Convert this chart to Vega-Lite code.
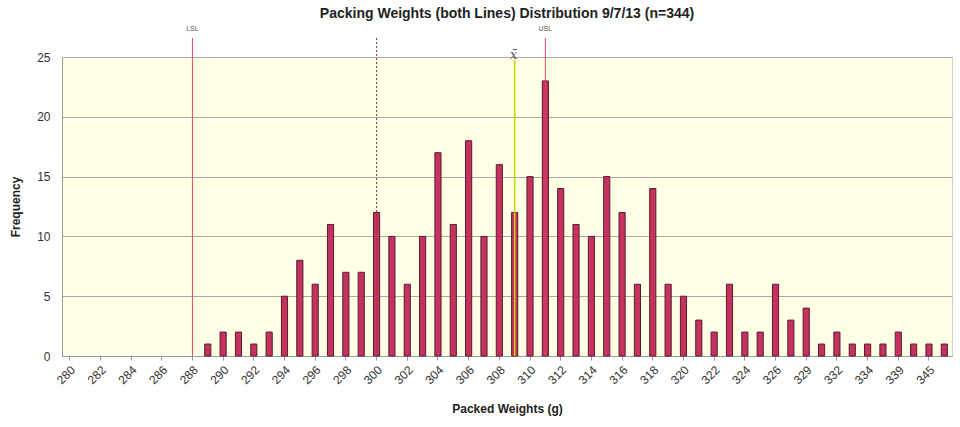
{
  "$schema": "https://vega.github.io/schema/vega-lite/v6.json",
  "width": 890,
  "height": 299,
  "autosize": {"type": "none"},
  "padding": {"left": 62, "top": 57, "right": 8, "bottom": 71},
  "background": "white",
  "config": {
    "view": {"fill": "#FFFFE6", "stroke": "#D0D0D0"},
    "font": "Liberation Sans"
  },
  "title": {
    "text": "Packing Weights (both Lines) Distribution 9/7/13 (n=344)",
    "fontSize": 14,
    "fontWeight": "bold",
    "color": "#222222",
    "anchor": "middle",
    "offset": 4
  },
  "data": {
    "values": [
      {"w": "289", "n": 1}, {"w": "290", "n": 2}, {"w": "291", "n": 2}, {"w": "292", "n": 1},
      {"w": "293", "n": 2}, {"w": "294", "n": 5}, {"w": "295", "n": 8}, {"w": "296", "n": 6},
      {"w": "297", "n": 11}, {"w": "298", "n": 7}, {"w": "299", "n": 7}, {"w": "300", "n": 12},
      {"w": "301", "n": 10}, {"w": "302", "n": 6}, {"w": "303", "n": 10}, {"w": "304", "n": 17},
      {"w": "305", "n": 11}, {"w": "306", "n": 18}, {"w": "307", "n": 10}, {"w": "308", "n": 16},
      {"w": "309", "n": 12}, {"w": "310", "n": 15}, {"w": "311", "n": 23}, {"w": "312", "n": 14},
      {"w": "313", "n": 11}, {"w": "314", "n": 10}, {"w": "315", "n": 15}, {"w": "316", "n": 12},
      {"w": "317", "n": 6}, {"w": "318", "n": 14}, {"w": "319", "n": 6}, {"w": "320", "n": 5},
      {"w": "321", "n": 3}, {"w": "322", "n": 2}, {"w": "323", "n": 6}, {"w": "324", "n": 2},
      {"w": "325", "n": 2}, {"w": "326", "n": 6}, {"w": "327", "n": 3}, {"w": "329", "n": 4},
      {"w": "330", "n": 1}, {"w": "332", "n": 2}, {"w": "333", "n": 1}, {"w": "334", "n": 1},
      {"w": "336", "n": 1}, {"w": "339", "n": 2}, {"w": "341", "n": 1}, {"w": "345", "n": 1},
      {"w": "347", "n": 1}
    ]
  },
  "layer": [
    {
      "mark": {"type": "bar", "fill": "#C4325E", "stroke": "#5A1A2E", "strokeWidth": 1},
      "encoding": {
        "x": {
          "field": "w",
          "type": "ordinal",
          "scale": {
            "domain": ["280","281","282","283","284","285","286","287","288","289","290","291","292","293","294","295","296","297","298","299","300","301","302","303","304","305","306","307","308","309","310","311","312","313","314","315","316","317","318","319","320","321","322","323","324","325","326","327","329","330","332","333","334","336","339","341","345","347"],
            "paddingInner": 0.6,
            "paddingOuter": 0.3
          },
          "axis": {
            "values": ["280","282","284","286","288","290","292","294","296","298","300","302","304","306","308","310","312","314","316","318","320","322","324","326","329","332","334","339","345"],
            "labelAngle": -45,
            "labelFontSize": 12,
            "labelColor": "#333333",
            "labelPadding": 4,
            "domainColor": "#999999",
            "tickColor": "#999999",
            "tickSize": 4,
            "grid": false,
            "title": "Packed Weights (g)",
            "titleFontSize": 12,
            "titleFontWeight": "bold",
            "titleColor": "#222222",
            "titlePadding": 18
          }
        },
        "y": {
          "field": "n",
          "type": "quantitative",
          "scale": {"domain": [0, 25], "nice": false},
          "axis": {
            "values": [0, 5, 10, 15, 20, 25],
            "ticks": false,
            "labelPadding": 12,
            "labelFontSize": 12,
            "labelColor": "#333333",
            "domainColor": "#999999",
            "gridColor": "#A8A8A8",
            "title": "Frequency",
            "titleFontSize": 12,
            "titleFontWeight": "bold",
            "titleColor": "#222222",
            "titlePadding": 14
          }
        }
      }
    },
    {
      "data": {"values": [{"w": "288"}]},
      "mark": {"type": "rule", "color": "#E0485A", "strokeWidth": 1},
      "encoding": {
        "x": {"field": "w", "type": "ordinal"},
        "y": {"datum": 0, "type": "quantitative"},
        "y2": {"datum": 26.6}
      }
    },
    {
      "data": {"values": [{"w": "311"}]},
      "mark": {"type": "rule", "color": "#E0485A", "strokeWidth": 1},
      "encoding": {
        "x": {"field": "w", "type": "ordinal"},
        "y": {"datum": 0, "type": "quantitative"},
        "y2": {"datum": 26.6}
      }
    },
    {
      "data": {"values": [{"w": "300"}]},
      "mark": {"type": "rule", "color": "#8B3A3A", "strokeWidth": 1, "strokeDash": [2, 2]},
      "encoding": {
        "x": {"field": "w", "type": "ordinal"},
        "y": {"datum": 0, "type": "quantitative"},
        "y2": {"datum": 26.6}
      }
    },
    {
      "data": {"values": [{"w": "309"}]},
      "mark": {"type": "rule", "color": "#C8D400", "strokeWidth": 1.5},
      "encoding": {
        "x": {"field": "w", "type": "ordinal"},
        "y": {"datum": 0, "type": "quantitative"},
        "y2": {"datum": 24.7}
      }
    },
    {
      "data": {"values": [{"w": "288", "t": "LSL"}, {"w": "311", "t": "USL"}]},
      "mark": {"type": "text", "fontSize": 7, "color": "#555555", "baseline": "middle", "dy": -3},
      "encoding": {
        "x": {"field": "w", "type": "ordinal"},
        "y": {"datum": 27.1, "type": "quantitative"},
        "text": {"field": "t"}
      }
    },
    {
      "data": {"values": [{"w": "309", "t": "x̄"}]},
      "mark": {"type": "text", "fontSize": 13, "font": "DejaVu Serif", "fontStyle": "italic", "color": "#555555", "baseline": "middle", "dx": -1},
      "encoding": {
        "x": {"field": "w", "type": "ordinal"},
        "y": {"datum": 25.2, "type": "quantitative"},
        "text": {"field": "t"}
      }
    }
  ]
}
